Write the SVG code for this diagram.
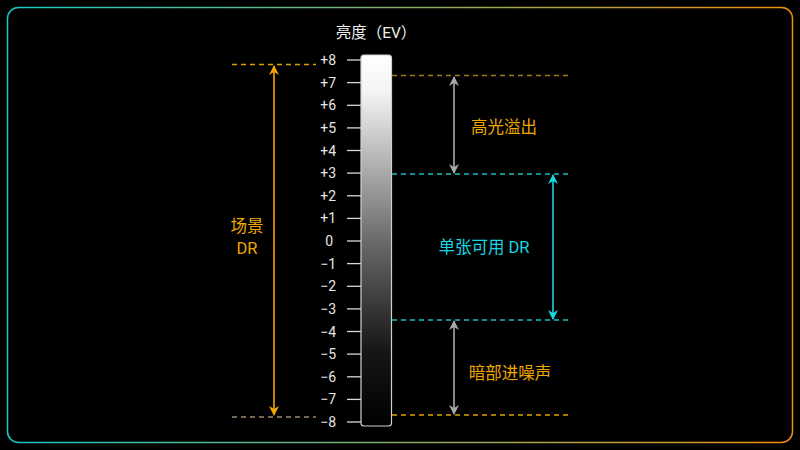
<svg xmlns="http://www.w3.org/2000/svg" width="800" height="450" viewBox="0 0 800 450">
<defs>
<linearGradient id="frame" x1="0" y1="0" x2="1" y2="0">
<stop offset="0" stop-color="#19c7c4"/>
<stop offset="1" stop-color="#f0900f"/>
</linearGradient>
<linearGradient id="ev" x1="0" y1="0" x2="0" y2="1">
<stop offset="0" stop-color="#ffffff"/>
<stop offset="0.1" stop-color="#f4f4f4"/>
<stop offset="0.5" stop-color="#6a6a6a"/>
<stop offset="0.8" stop-color="#161616"/>
<stop offset="1" stop-color="#000000"/>
</linearGradient>
<marker id="aO" viewBox="0 0 10 10" refX="9" refY="5" markerWidth="10" markerHeight="10" orient="auto-start-reverse" markerUnits="userSpaceOnUse"><path d="M0,0 L10,5 L0,10 L3,5 Z" fill="#f5a500"/></marker>
<marker id="aG" viewBox="0 0 10 10" refX="9" refY="5" markerWidth="10" markerHeight="10" orient="auto-start-reverse" markerUnits="userSpaceOnUse"><path d="M0,0 L10,5 L0,10 L3,5 Z" fill="#a8a8a8"/></marker>
<marker id="aC" viewBox="0 0 10 10" refX="9" refY="5" markerWidth="10" markerHeight="10" orient="auto-start-reverse" markerUnits="userSpaceOnUse"><path d="M0,0 L10,5 L0,10 L3,5 Z" fill="#19d6e0"/></marker>
</defs>
<style>
text{font-family:Roboto,"Noto Sans CJK SC",sans-serif}
.tick{stroke:#d8d8d8;stroke-width:1.3}
.tl{fill:#e6e6e6;font-size:14px;text-anchor:end}
.dO{stroke:#e0a000;stroke-width:1.3;stroke-dasharray:5 4;fill:none}
.dO2{stroke:#a8781c;stroke-width:1.3;stroke-dasharray:5 4;fill:none}
.dG{stroke:#9a8a70;stroke-width:1.3;stroke-dasharray:5 4;fill:none}
.dC{stroke:#19c0c8;stroke-width:1.3;stroke-dasharray:5 4;fill:none}
.lbO{fill:#f0a800;font-size:16.5px;text-anchor:middle}
.lbC{fill:#19d6e0;font-size:16.5px;text-anchor:middle}
</style>
<rect width="800" height="450" fill="#000"/>
<rect x="7.5" y="7.5" width="785" height="435" rx="11" fill="none" stroke="url(#frame)" stroke-width="1.5"/>
<g id="title"><text x="376" y="38" fill="#eeeeee" font-size="15.5" text-anchor="middle">亮度（EV）</text></g>
<g id="scale">
<rect x="361" y="55" width="30.5" height="371" rx="3" fill="url(#ev)" stroke="#cfcfcf" stroke-width="1.2"/>
<g>
<line class="tick" x1="347" y1="60" x2="361" y2="60"/><text class="tl" x="336" y="65">+8</text>
<line class="tick" x1="347" y1="82.6" x2="361" y2="82.6"/><text class="tl" x="336" y="87.6">+7</text>
<line class="tick" x1="347" y1="105.3" x2="361" y2="105.3"/><text class="tl" x="336" y="110.3">+6</text>
<line class="tick" x1="347" y1="127.9" x2="361" y2="127.9"/><text class="tl" x="336" y="132.9">+5</text>
<line class="tick" x1="347" y1="150.5" x2="361" y2="150.5"/><text class="tl" x="336" y="155.5">+4</text>
<line class="tick" x1="347" y1="173.1" x2="361" y2="173.1"/><text class="tl" x="336" y="178.1">+3</text>
<line class="tick" x1="347" y1="195.8" x2="361" y2="195.8"/><text class="tl" x="336" y="200.8">+2</text>
<line class="tick" x1="347" y1="218.4" x2="361" y2="218.4"/><text class="tl" x="336" y="223.4">+1</text>
<line class="tick" x1="347" y1="241" x2="361" y2="241"/><text class="tl" x="333" y="246">0</text>
<line class="tick" x1="347" y1="263.6" x2="361" y2="263.6"/><text class="tl" x="336" y="268.6">−1</text>
<line class="tick" x1="347" y1="286.3" x2="361" y2="286.3"/><text class="tl" x="336" y="291.3">−2</text>
<line class="tick" x1="347" y1="308.9" x2="361" y2="308.9"/><text class="tl" x="336" y="313.9">−3</text>
<line class="tick" x1="347" y1="331.5" x2="361" y2="331.5"/><text class="tl" x="336" y="336.5">−4</text>
<line class="tick" x1="347" y1="354.1" x2="361" y2="354.1"/><text class="tl" x="336" y="359.1">−5</text>
<line class="tick" x1="347" y1="376.8" x2="361" y2="376.8"/><text class="tl" x="336" y="381.8">−6</text>
<line class="tick" x1="347" y1="399.4" x2="361" y2="399.4"/><text class="tl" x="336" y="404.4">−7</text>
<line class="tick" x1="347" y1="422" x2="361" y2="422"/><text class="tl" x="336" y="427">−8</text>
</g>
</g>
<g id="guides">
<line class="dO" x1="232" y1="64.5" x2="316" y2="64.5"/>
<line class="dG" x1="232" y1="417" x2="316" y2="417"/>
<line class="dO2" x1="392" y1="75.5" x2="570" y2="75.5"/>
<line class="dC" x1="392" y1="174" x2="570" y2="174"/>
<line class="dC" x1="392" y1="320" x2="570" y2="320"/>
<line class="dO" x1="392" y1="415" x2="570" y2="415"/>
</g>
<g id="connectors">
<line x1="274" y1="66" x2="274" y2="415" stroke="#f5a500" stroke-width="1.6" marker-start="url(#aO)" marker-end="url(#aO)"/>
<line x1="454" y1="77" x2="454" y2="173" stroke="#a8a8a8" stroke-width="1.6" marker-start="url(#aG)" marker-end="url(#aG)"/>
<line x1="553" y1="175" x2="553" y2="319" stroke="#19d6e0" stroke-width="1.6" marker-start="url(#aC)" marker-end="url(#aC)"/>
<line x1="454" y1="321" x2="454" y2="414" stroke="#a8a8a8" stroke-width="1.6" marker-start="url(#aG)" marker-end="url(#aG)"/>
</g>
<g id="scene-dr"><text class="lbO" x="247" y="232">场景</text><text class="lbO" x="247" y="254">DR</text></g>
<g id="highlight"><text class="lbO" x="504" y="133">高光溢出</text></g>
<g id="usable"><text class="lbC" x="484" y="253">单张可用 DR</text></g>
<g id="shadow"><text class="lbO" x="510" y="379">暗部进噪声</text></g>
</svg>
